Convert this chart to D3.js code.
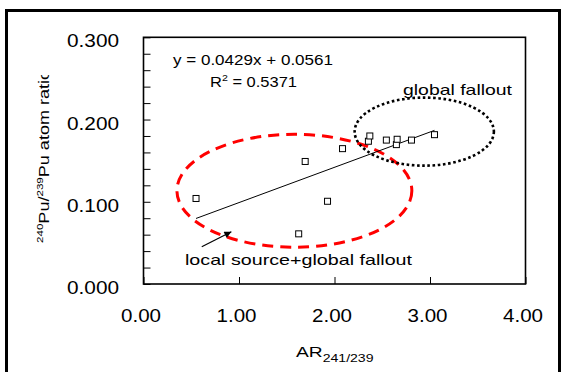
<!DOCTYPE html>
<html>
<head>
<meta charset="utf-8">
<script src="https://cdn.jsdelivr.net/npm/d3@7"></script>
<style>
  html, body { margin: 0; padding: 0; background: #fff; }
  svg { display: block; font-family: "Liberation Sans", Arial, sans-serif; }
</style>
</head>
<body>
<svg id="chart" width="563" height="372"></svg>
<script>
// ---- data ----
const arValues = [0.55, 1.625, 1.693, 1.927, 2.084, 2.355, 2.37, 2.543, 2.648, 2.656, 2.806, 3.047];
const puRatios = [0.104, 0.061, 0.149, 0.1006, 0.1646, 0.1736, 0.180, 0.175, 0.1695, 0.176, 0.175, 0.1816];
const fitSlope = 0.0429;
const fitIntercept = 0.0561;
const xTickValues = [0, 1, 2, 3, 4];
const yTickValues = [0, 0.02, 0.04, 0.06, 0.08, 0.1, 0.12, 0.14, 0.16, 0.18, 0.2, 0.22, 0.24, 0.26, 0.28, 0.3];
const yLabelValues = [0, 0.1, 0.2, 0.3];
const equationText = "y = 0.0429x + 0.0561";
const r2Text = "= 0.5371";
// annotation ellipses: [cx, cy, rx, ry] in data units
const localEllipse = [1.58, 0.1134, 1.23, 0.0687];
const globalEllipse = [2.94, 0.1853, 0.729, 0.0414];
const arrowFrom = [0.61, 0.0454];
const arrowTo = [0.92, 0.0636];

const svg = d3.select("#chart");
const x = d3.scaleLinear().domain([0, 4]).range([143.5, 525.5]);
const y = d3.scaleLinear().domain([0, 0.3]).range([284, 37.3]);

// outer border
svg.append("rect").attr("x", 6.5).attr("y", 10.5).attr("width", 553).attr("height", 380)
  .attr("fill", "none").attr("stroke", "#000").attr("stroke-width", 3);

// defs
const defs = svg.append("defs");
defs.append("marker").attr("id", "arrowhead").attr("viewBox", "0 0 10 10")
  .attr("refX", 10).attr("refY", 5).attr("markerWidth", 9).attr("markerHeight", 7)
  .attr("markerUnits", "userSpaceOnUse").attr("orient", "auto")
  .append("path").attr("d", "M0,0 L10,5 L0,10 Z").attr("fill", "#000");
defs.append("clipPath").attr("id", "ylabclip")
  .append("rect").attr("x", 0).attr("y", 75).attr("width", 140).attr("height", 300);

// axes
const xAxis = d3.axisBottom(x).tickValues(xTickValues).tickSize(-7).tickFormat(d3.format(".2f"));
const gx = svg.append("g").attr("transform", "translate(0,284)").call(xAxis);
gx.select(".domain").remove();
gx.selectAll(".tick line").attr("stroke", "#000").attr("stroke-width", 1);
gx.selectAll(".tick text")
  .attr("y", 38).attr("dy", null).attr("dx", -3)
  .attr("fill", "#000").attr("font-size", 19)
  .attr("font-family", "Liberation Sans, Arial, sans-serif")
  .attr("textLength", 40).attr("lengthAdjust", "spacingAndGlyphs");

const yAxis = d3.axisLeft(y).tickValues(yTickValues).tickSize(-7)
  .tickFormat(d => yLabelValues.some(v => Math.abs(v - d) < 1e-9) ? d3.format(".3f")(d) : "");
const gy = svg.append("g").attr("transform", "translate(143.5,0)").call(yAxis);
gy.select(".domain").remove();
gy.selectAll(".tick line").attr("stroke", "#000").attr("stroke-width", 1);
gy.selectAll(".tick text")
  .attr("x", -24.5).attr("dy", 9.5)
  .attr("fill", "#000").attr("font-size", 19)
  .attr("font-family", "Liberation Sans, Arial, sans-serif")
  .filter(function () { return this.textContent !== ""; })
  .attr("textLength", 52).attr("lengthAdjust", "spacingAndGlyphs");

// plot frame
svg.append("rect").attr("x", x(0)).attr("y", y(0.3))
  .attr("width", x(4) - x(0)).attr("height", y(0) - y(0.3))
  .attr("fill", "none").attr("stroke", "#000").attr("stroke-width", 1.6);

// ellipses
svg.append("ellipse")
  .attr("cx", x(localEllipse[0])).attr("cy", y(localEllipse[1]))
  .attr("rx", x(localEllipse[2]) - x(0)).attr("ry", y(0) - y(localEllipse[3]))
  .attr("fill", "none").attr("stroke", "#ff0000").attr("stroke-width", 3)
  .attr("stroke-dasharray", "11,7");
svg.append("ellipse")
  .attr("cx", x(globalEllipse[0])).attr("cy", y(globalEllipse[1]))
  .attr("rx", x(globalEllipse[2]) - x(0)).attr("ry", y(0) - y(globalEllipse[3]))
  .attr("fill", "none").attr("stroke", "#000").attr("stroke-width", 2.6)
  .attr("stroke-dasharray", "2.6,2.6");

// regression line
const xmin = d3.min(arValues), xmax = d3.max(arValues);
svg.append("line")
  .attr("x1", x(xmin)).attr("y1", y(fitSlope * xmin + fitIntercept))
  .attr("x2", x(xmax)).attr("y2", y(fitSlope * xmax + fitIntercept))
  .attr("stroke", "#000").attr("stroke-width", 1);

// points
svg.append("g").selectAll("rect").data(arValues).join("rect")
  .attr("x", (d) => x(d) - 3).attr("y", (d, i) => y(puRatios[i]) - 3)
  .attr("width", 6).attr("height", 6)
  .attr("fill", "#fff").attr("stroke", "#000").attr("stroke-width", 1);

// arrow
svg.append("line")
  .attr("x1", x(arrowFrom[0])).attr("y1", y(arrowFrom[1]))
  .attr("x2", x(arrowTo[0])).attr("y2", y(arrowTo[1]))
  .attr("stroke", "#000").attr("stroke-width", 1.2)
  .attr("marker-end", "url(#arrowhead)");

// annotations
svg.append("text").attr("x", 253).attr("y", 65).attr("text-anchor", "middle")
  .attr("font-size", 14).attr("textLength", 160).attr("lengthAdjust", "spacingAndGlyphs")
  .text(equationText);
const r2 = svg.append("text").attr("x", 210).attr("y", 87)
  .attr("font-size", 14).attr("textLength", 87).attr("lengthAdjust", "spacingAndGlyphs");
r2.append("tspan").text("R");
r2.append("tspan").attr("font-size", 9).attr("dy", -6).text("2");
r2.append("tspan").attr("dy", 6).text(" " + r2Text);

svg.append("text").attr("x", 403).attr("y", 95)
  .attr("font-size", 15).attr("textLength", 109).attr("lengthAdjust", "spacingAndGlyphs")
  .text("global fallout");
svg.append("text").attr("x", 185).attr("y", 265)
  .attr("font-size", 15).attr("textLength", 227).attr("lengthAdjust", "spacingAndGlyphs")
  .text("local source+global fallout");

// x axis title
const xt = svg.append("text").attr("transform", "translate(296,357) scale(1.28,1)")
  .attr("font-size", 15);
xt.append("tspan").text("AR");
xt.append("tspan").attr("font-size", 11).attr("dy", 5).text("241/239");

// y axis title (clipped at top like the original)
const yg = svg.append("g").attr("clip-path", "url(#ylabclip)");
const yt = yg.append("text").attr("transform", "translate(48.5,243) rotate(-90) scale(1.29,1)")
  .attr("font-size", 14);
yt.append("tspan").attr("font-size", 9).attr("dy", -6).text("240");
yt.append("tspan").attr("dy", 6).text("Pu/");
yt.append("tspan").attr("font-size", 9).attr("dy", -6).text("239");
yt.append("tspan").attr("dy", 6).text("Pu atom ratio");
</script>
</body>
</html>
